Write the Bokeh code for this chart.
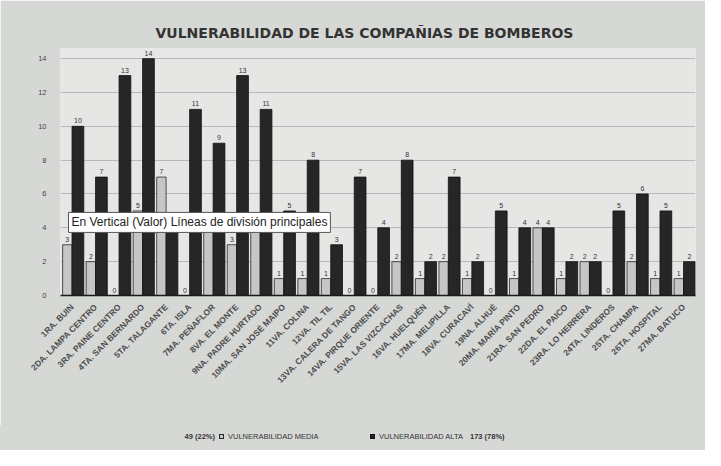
import math
from bokeh.plotting import figure
from bokeh.layouts import column
from bokeh.models import (FactorRange, Label, ColumnDataSource, FixedTicker, Div)
from bokeh.transform import dodge
from bokeh.embed import file_html
from bokeh.resources import INLINE

companias = [
    "1RA. BUIN", "2DA. LAMPA CENTRO", "3RA. PAINE CENTRO", "4TA. SAN BERNARDO",
    "5TA. TALAGANTE", "6TA. ISLA", "7MA. PEÑAFLOR", "8VA. EL MONTE",
    "9NA. PADRE HURTADO", "10MA. SAN JOSÉ MAIPO", "11VA. COLINA", "12VA. TIL TIL",
    "13VA. CALERA DE TANGO", "14VA. PIRQUE ORIENTE", "15VA. LAS VIZCACHAS",
    "16VA. HUELQUÉN", "17MA. MELIPILLA", "18VA. CURACAVÍ", "19NA. ALHUÉ",
    "20MA. MARÍA PINTO", "21RA. SAN PEDRO", "22DA. EL PAICO", "23RA. LO HERRERA",
    "24TA. LINDEROS", "25TA. CHAMPA", "26TA. HOSPITAL", "27MA. BATUCO",
]
media = [3, 2, 0, 5, 7, 0, 4, 3, 4, 1, 1, 1, 0, 0, 2, 1, 2, 1, 0, 1, 4, 1, 2, 0, 2, 1, 1]
alta = [10, 7, 13, 14, 4, 11, 9, 13, 11, 5, 8, 3, 7, 4, 8, 2, 7, 2, 5, 4, 4, 2, 2, 5, 6, 5, 2]
y_ticks = [0, 2, 4, 6, 8, 10, 12, 14]

titulo = "VULNERABILIDAD DE LAS COMPAÑIAS DE BOMBEROS"
serie_media = "VULNERABILIDAD MEDIA"
serie_alta = "VULNERABILIDAD ALTA"
total_media = "49 (22%)"
total_alta = "173 (78%)"
aviso = "En Vertical (Valor) Líneas de división principales"

BG = "#d6d8d5"
C_MEDIA = "#c6c6c6"
C_ALTA = "#262626"

src = ColumnDataSource(dict(
    cat=companias, media=media, alta=alta,
    media_txt=[str(v) for v in media], alta_txt=[str(v) for v in alta],
))

p = figure(x_range=FactorRange(factors=companias, range_padding=0),
           y_range=(0, 14.6), width=705, height=425,
           output_backend="svg", toolbar_location=None,
           min_border_left=60, min_border_right=10,
           min_border_top=48, min_border_bottom=130)

p.border_fill_color = BG
p.background_fill_color = "#e6e7e5"
p.outline_line_color = None

p.title.text = titulo
p.title.align = "left"
p.title.offset = 95
p.title.text_font = "DejaVu Sans"
p.title.text_font_size = "14px"
p.title.text_font_style = "bold"
p.title.text_color = "#333333"
p.title.standoff = 15

r_media = p.vbar(x=dodge("cat", -0.21, range=p.x_range), top="media", width=0.4,
                 source=src, fill_color=C_MEDIA, line_color="#2a2a2a", line_width=0.8)
r_alta = p.vbar(x=dodge("cat", 0.24, range=p.x_range), top="alta", width=0.5,
                source=src, fill_color=C_ALTA, line_color="#111111", line_width=0.8)

p.text(x=dodge("cat", -0.21, range=p.x_range), y="media", text="media_txt", source=src,
       text_align="center", text_baseline="bottom", y_offset=-3,
       text_font_size="7px", text_color="#333333")
p.text(x=dodge("cat", 0.24, range=p.x_range), y="alta", text="alta_txt", source=src,
       text_align="center", text_baseline="bottom", y_offset=-3,
       text_font_size="7px", text_color="#333333")

p.xaxis.major_label_orientation = math.pi / 4
p.xaxis.major_label_text_font_size = "8.5px"
p.xaxis.major_label_text_font_style = "bold"
p.xaxis.major_label_text_color = "#4d4d4d"
p.xaxis.major_tick_line_color = None
p.xaxis.axis_line_color = "#1a1a1a"
p.xaxis.axis_line_width = 1.5
p.xaxis.major_label_standoff = 4

p.yaxis.ticker = FixedTicker(ticks=y_ticks)
p.yaxis.major_label_text_font_size = "7.5px"
p.yaxis.major_label_text_color = "#444444"
p.yaxis.axis_line_color = None
p.yaxis.major_tick_line_color = None
p.yaxis.minor_tick_line_color = None
p.yaxis.major_label_standoff = 8

p.xgrid.grid_line_color = None
p.ygrid.grid_line_color = "#b8b8b8"
p.ygrid.ticker = FixedTicker(ticks=y_ticks)

p.add_layout(Label(x=0.34, y=4.32, text=aviso, text_align="left",
                   text_baseline="middle", text_font="Liberation Sans",
                   text_font_size="12px", text_color="#222222",
                   background_fill_color="#ffffff", border_line_color="#555555",
                   padding=3))

# legend strip below the chart
def swatch(left, color, border):
    return (f'<span style="position:absolute;left:{left}px;top:9px;width:5px;height:5px;'
            f'background:{color};border:1px solid {border};"></span>')

def txt(left, s, bold=False, right=None):
    pos = f"right:{705 - right}px;" if right is not None else f"left:{left}px;"
    w = "bold" if bold else "normal"
    return (f'<span style="position:absolute;{pos}top:6px;line-height:12px;'
            f'font-weight:{w};white-space:nowrap;">{s}</span>')

html = (
    f'<div style="position:relative;width:705px;height:25px;background:{BG};'
    f'font-family:\'Liberation Sans\',Arial,sans-serif;font-size:7.5px;color:#333333;">'
    + txt(0, total_media, bold=True, right=215)
    + swatch(219, C_MEDIA, "#2a2a2a")
    + txt(228, serie_media)
    + swatch(370, C_ALTA, "#111111")
    + txt(379, serie_alta)
    + txt(470, total_alta, bold=True)
    + '</div>'
)
leyenda = Div(text=html, width=705, height=25, margin=0)

layout = column(p, leyenda, spacing=0)
open("out.html", "w").write(file_html(layout, INLINE))
